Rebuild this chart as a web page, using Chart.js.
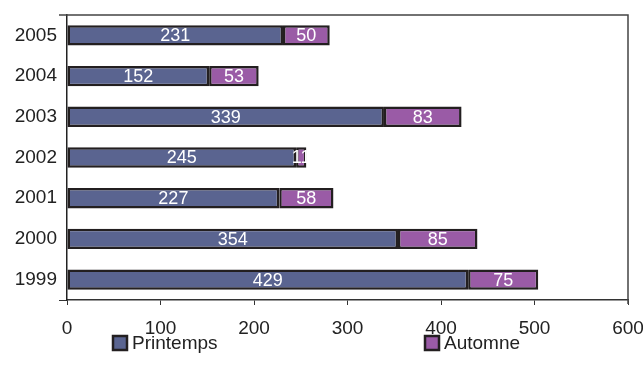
<!DOCTYPE html>
<html>
<head>
<meta charset="utf-8">
<script src="https://cdn.jsdelivr.net/npm/chart.js@4/dist/chart.umd.min.js"></script>
<style>
  html, body { margin: 0; padding: 0; background: #fff; }
  #wrap { width: 643px; height: 380px; position: relative; }
</style>
</head>
<body>
<div id="wrap"><canvas id="c" width="643" height="380"></canvas></div>
<script>
// Years on the category axis (bottom to top)
const years = ['1999', '2000', '2001', '2002', '2003', '2004', '2005'];
// Counts per season
const printemps = [429, 354, 227, 245, 339, 152, 231];
const automne = [75, 85, 58, 11, 83, 53, 50];
// Value axis
const xMin = 0;
const xMax = 600;
const xStep = 100;

const FONT = '"Liberation Sans", Arial, Helvetica, sans-serif';
const BORDER = '#231f20';

// White value labels centred in each bar segment
const segmentLabels = {
  id: 'segmentLabels',
  afterDatasetsDraw(chart) {
    const ctx = chart.ctx;
    ctx.save();
    ctx.font = '18px ' + FONT;
    ctx.fillStyle = '#ffffff';
    ctx.textAlign = 'center';
    ctx.textBaseline = 'middle';
    chart.data.datasets.forEach((ds, di) => {
      const meta = chart.getDatasetMeta(di);
      meta.data.forEach((bar, i) => {
        const p = bar.getProps(['x', 'base', 'y'], true);
        ctx.fillText(String(ds.data[i]), (p.x + p.base) / 2, p.y + 1);
      });
    });
    ctx.restore();
  }
};

// Top and right edges of the plot frame
const plotFrame = {
  id: 'plotFrame',
  afterDraw(chart) {
    const a = chart.chartArea;
    const ctx = chart.ctx;
    ctx.save();
    ctx.strokeStyle = '#444';
    ctx.lineWidth = 1.5;
    ctx.beginPath();
    ctx.moveTo(a.left - 8, a.top);
    ctx.lineTo(a.right, a.top);
    ctx.lineTo(a.right, a.bottom + 4);
    ctx.stroke();
    ctx.restore();
  }
};

// Legend drawn under the axis with wide spacing between entries
const wideLegend = {
  id: 'wideLegend',
  afterDraw(chart, args, opts) {
    const ctx = chart.ctx;
    ctx.save();
    ctx.font = '19px ' + FONT;
    ctx.textBaseline = 'middle';
    ctx.textAlign = 'left';
    chart.data.datasets.forEach((ds, i) => {
      const x = opts.positions[i];
      const y = opts.y;
      ctx.fillStyle = ds.backgroundColor;
      ctx.fillRect(x, y - 7, 14, 14);
      ctx.strokeStyle = BORDER;
      ctx.lineWidth = 2.5;
      ctx.strokeRect(x, y - 7, 14, 14);
      ctx.fillStyle = '#222';
      ctx.fillText(ds.label, x + 19, y + 1);
    });
    ctx.restore();
  }
};

new Chart(document.getElementById('c'), {
  type: 'bar',
  data: {
    labels: years,
    datasets: [
      {
        label: 'Printemps',
        data: printemps,
        backgroundColor: '#5a6490',
        borderColor: BORDER,
        borderWidth: 2.5,
        borderSkipped: false,
        categoryPercentage: 0.5,
        barPercentage: 1
      },
      {
        label: 'Automne',
        data: automne,
        backgroundColor: '#9a5ba6',
        borderColor: BORDER,
        borderWidth: 2.5,
        borderSkipped: false,
        categoryPercentage: 0.5,
        barPercentage: 1
      }
    ]
  },
  options: {
    indexAxis: 'y',
    responsive: false,
    animation: false,
    devicePixelRatio: 1,
    layout: { padding: { top: 15, right: 15, left: 0, bottom: 0 } },
    plugins: {
      legend: { display: false },
      tooltip: { enabled: false },
      wideLegend: { positions: [113, 425], y: 343 }
    },
    scales: {
      x: {
        stacked: true,
        min: xMin,
        max: xMax,
        ticks: {
          stepSize: xStep,
          color: '#222',
          font: { family: FONT, size: 19 },
          padding: 12
        },
        grid: {
          drawOnChartArea: false,
          drawTicks: true,
          tickLength: 5,
          color: '#333'
        },
        border: { display: true, color: '#333', width: 1.5 },
        afterFit(scale) {
          scale.height = 80;
          scale.paddingLeft = 0;
          scale.paddingRight = 0;
        }
      },
      y: {
        stacked: true,
        reverse: true,
        ticks: {
          color: '#222',
          font: { family: FONT, size: 19 },
          padding: 2
        },
        grid: {
          drawOnChartArea: false,
          drawTicks: true,
          tickLength: 8,
          color: (ctx) => (ctx.index === 0 || ctx.index === years.length) ? '#333' : 'rgba(0,0,0,0)'
        },
        border: { display: true, color: '#222', width: 1.5 },
        afterFit(scale) { scale.width = 67; }
      }
    }
  },
  plugins: [segmentLabels, plotFrame, wideLegend]
});
</script>
</body>
</html>
